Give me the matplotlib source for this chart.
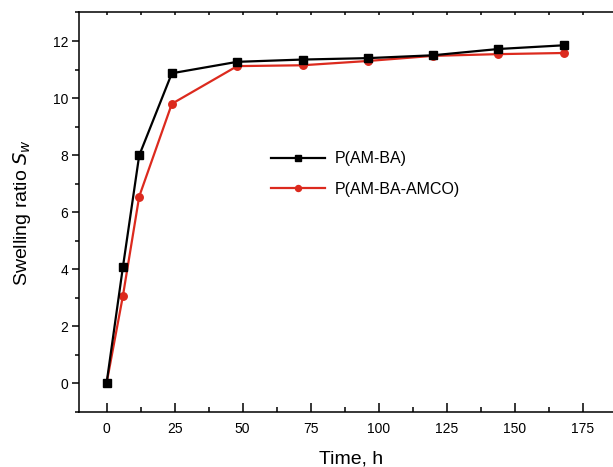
import matplotlib
matplotlib.use("Agg")
from matplotlib import pyplot as plt
from matplotlib.ticker import MultipleLocator
import numpy as np

plt.rcParams['font.family'] = ['Liberation Sans', 'DejaVu Sans']

# sampling times (h) and swelling ratios
tiempo = [0, 6, 12, 24, 48, 72, 96, 120, 144, 168]
sw_am_ba = [0, 4.07, 7.99, 10.87, 11.27, 11.35, 11.40, 11.50, 11.72, 11.85]
sw_am_ba_amco = [0, 3.06, 6.55, 9.80, 11.12, 11.15, 11.30, 11.48, 11.54, 11.58]
etiquetas = ["P(AM-BA)", "P(AM-BA-AMCO)"]

rojo = "#dc2a1e"

fig = plt.figure(figsize=(6.13, 4.67), dpi=100)
ax = fig.add_axes([0.1294, 0.1178, 0.888, 0.8555])

ax.plot(tiempo, sw_am_ba, color="black", lw=1.6, marker="s", ms=5.6, label=etiquetas[0], zorder=3)
ax.plot(tiempo, sw_am_ba_amco, color=rojo, lw=1.6, marker="o", ms=5.4, label=etiquetas[1], zorder=2)

ax.set_xlim(-10, 190)
ax.set_ylim(-1, 13)

ax.xaxis.set_major_locator(MultipleLocator(25))
ax.xaxis.set_minor_locator(MultipleLocator(12.5))
ax.yaxis.set_major_locator(MultipleLocator(2))
ax.yaxis.set_minor_locator(MultipleLocator(1))

for s in ax.spines.values():
    s.set_linewidth(1.1)
ax.spines['right'].set_visible(False)

ax.tick_params(axis='x', which='major', direction='in', length=6.5, width=1.1, labelsize=10, pad=7,
               top=True, labeltop=False)
ax.tick_params(axis='x', which='minor', direction='in', length=3.5, width=1.1, top=True)
ax.tick_params(axis='y', which='major', direction='out', length=5, width=1.1, labelsize=10, pad=3)
ax.tick_params(axis='y', which='minor', direction='out', length=3, width=1.1)

# shorter inward ticks along the top spine
for t in ax.xaxis.get_major_ticks() + ax.xaxis.get_minor_ticks():
    t.tick2line.set_markersize(2.5)

ax.set_xlabel("Time, h", fontsize=14, labelpad=11)
ax.set_ylabel("Swelling ratio $\\mathit{S}_{\\mathit{w}}$", fontsize=14, labelpad=14)

leg = ax.legend(loc="upper left", bbox_to_anchor=(0.325, 0.688), frameon=False, fontsize=11.5,
                handlelength=3.4, handletextpad=0.6, labelspacing=0.95, markerscale=0.8)

fig.savefig("out.png", dpi=100)
